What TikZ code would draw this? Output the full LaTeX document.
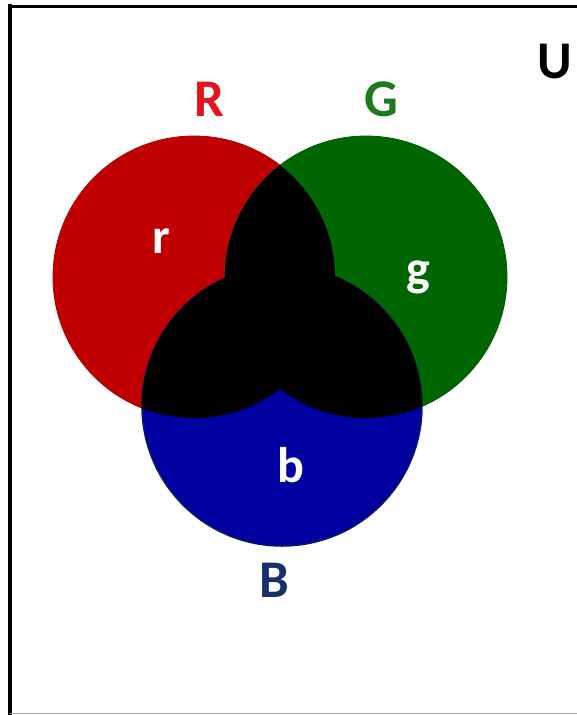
\documentclass[tikz,border=0pt]{standalone}
\usepackage{fontspec}
\setmainfont{Carlito}
\definecolor{redfill}{HTML}{C00000}
\definecolor{greenfill}{HTML}{006600}
\definecolor{bluefill}{HTML}{0000A0}
\definecolor{blueedge}{HTML}{0A1A60}
\definecolor{redlbl}{HTML}{E3141E}
\definecolor{greenlbl}{HTML}{1E7A1E}
\definecolor{bluelbl}{HTML}{17306A}
\begin{document}
\begin{tikzpicture}[x=1pt,y=-1pt,
  lbl/.style={font=\fontsize{53}{53}\selectfont\bfseries, inner sep=0pt, anchor=base},
  small/.style={font=\fontsize{50}{50}\selectfont\bfseries, inner sep=0pt, anchor=base, text=white}]
\useasboundingbox (0,0) rectangle (577,715);
\fill[white] (0,0) rectangle (577,715);
% frame
\draw[line width=4pt] (10,4) -- (10,715);
\draw[line width=3pt] (8,6) -- (577,6);
\draw[black!35, line width=1pt] (10,713) -- (577,713);
% centres
\coordinate (cR) at (194,277);
\coordinate (cG) at (366,277);
\coordinate (cB) at (282,406);
% circles
\fill[redfill] (cR) circle (141pt);
\draw[redfill!85!black, line width=0.8pt] (cR) circle (141pt);
\fill[greenfill] (cG) circle (141pt);
\draw[greenfill!85!black, line width=0.8pt] (cG) circle (141pt);
\fill[bluefill] (cB) circle (140pt);
\draw[blueedge, line width=1.5pt] (cB) circle (140pt);
% overlaps in black
\begin{scope}
  \clip (cR) circle (141pt);
  \fill[black] (cG) circle (141pt);
  \fill[black] (cB) circle (140pt);
\end{scope}
\begin{scope}
  \clip (cG) circle (141pt);
  \fill[black] (cB) circle (140pt);
\end{scope}
% labels
\node[lbl, text=redlbl] (R) at (209,116) {R};
\node[lbl, text=greenlbl] (G) at (381,116) {G};
\node[lbl, text=bluelbl] (B) at (274,597) {B};
\node[lbl, text=black] (U) at (555,78) {U};
\node[small] (r) at (161,253) {r};
\node[small] (g) at (418,285) {g};
\node[small] (b) at (291,482) {b};
\end{tikzpicture}
\end{document}
